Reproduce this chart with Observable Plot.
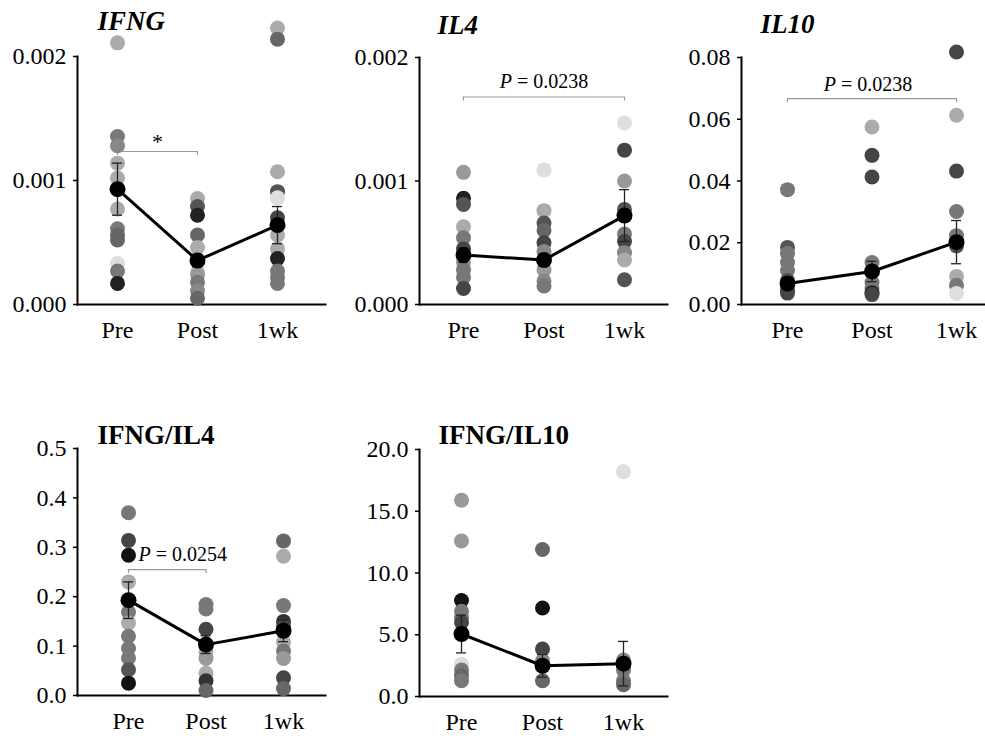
<!DOCTYPE html>
<html><head><meta charset="utf-8">
<script src="https://cdn.jsdelivr.net/npm/d3@7"></script>
<script src="https://cdn.jsdelivr.net/npm/@observablehq/plot@0.6"></script>
<style>
body{margin:0;background:#fff;}
#chart{position:relative;width:985px;height:736px;background:#fff;font-family:"Liberation Serif","Times New Roman",serif;}
#chart svg{position:absolute;overflow:visible;}
#chart svg text{font-family:"Liberation Serif","Times New Roman",serif !important;}
#chart svg g[aria-label$="tick label"] text{font-size:24px !important;fill:#000;}
</style></head><body><div id="chart"></div>
<script>
const categories = ["Pre", "Post", "1wk"];

// [value, gray shade (0 = black, 1 = white)]
const ifngPre  = [[0.00211,0.67],[0.001355,0.47],[0.00128,0.53],[0.00114,0.67],[0.00102,0.67],[0.00077,0.67],[0.00061,0.47],[0.00056,0.4],[0.00052,0.4],[0.00033,0.87],[0.00027,0.47],[0.00017,0.13]];
const ifngPost = [[0.000855,0.67],[0.00079,0.33],[0.00072,0.13],[0.00056,0.4],[0.00046,0.67],[0.00026,0.73],[0.00024,0.6],[0.00018,0.47],[0.00011,0.53],[0.00005,0.4]];
const ifng1wk  = [[0.00223,0.67],[0.00214,0.4],[0.00107,0.67],[0.00091,0.33],[0.00086,0.87],[0.0007,0.27],[0.00056,0.67],[0.00045,0.67],[0.00037,0.13],[0.00027,0.47],[0.00022,0.47],[0.00017,0.47]];
const ifngMean = [0.00093, 0.000355, 0.00064];
const ifngSem  = [0.00021, 0.00005, 0.00015];

const il4Pre  = [[0.00107,0.6],[0.00086,0.13],[0.00081,0.33],[0.00063,0.67],[0.00054,0.47],[0.00045,0.27],[0.00034,0.6],[0.00028,0.47],[0.00022,0.47],[0.00013,0.27]];
const il4Post = [[0.00109,0.87],[0.00076,0.67],[0.00066,0.33],[0.0006,0.4],[0.0005,0.27],[0.00043,0.53],[0.00028,0.6],[0.00019,0.53],[0.00015,0.47]];
const il41wk  = [[0.00147,0.87],[0.00125,0.27],[0.001,0.6],[0.00077,0.33],[0.00057,0.47],[0.00051,0.27],[0.00042,0.53],[0.00036,0.67],[0.0002,0.33]];
const il4Mean = [0.0004, 0.00036, 0.00072];
const il4Sem  = [0.00006, 0.00005, 0.00021];

const il10Pre  = [[0.0372,0.47],[0.0185,0.33],[0.0165,0.47],[0.0136,0.47],[0.011,0.47],[0.0078,0.33],[0.0045,0.27],[0.0037,0.27]];
const il10Post = [[0.0575,0.67],[0.0483,0.27],[0.0413,0.27],[0.0136,0.47],[0.0071,0.47],[0.0052,0.47],[0.0038,0.13],[0.0032,0.27]];
const il101wk  = [[0.0818,0.27],[0.0613,0.67],[0.0432,0.27],[0.0301,0.47],[0.0223,0.47],[0.019,0.33],[0.0091,0.67],[0.0062,0.47],[0.0036,0.87]];
const il10Mean = [0.0068, 0.0107, 0.0202];
const il10Sem  = [0.0015, 0.0033, 0.007];

const r4Pre  = [[0.37,0.47],[0.314,0.27],[0.284,0.07],[0.23,0.67],[0.169,0.47],[0.147,0.67],[0.12,0.47],[0.095,0.47],[0.076,0.47],[0.052,0.33],[0.025,0.07]];
const r4Post = [[0.184,0.47],[0.175,0.47],[0.134,0.27],[0.088,0.67],[0.075,0.6],[0.045,0.67],[0.03,0.2],[0.01,0.4]];
const r41wk  = [[0.313,0.4],[0.282,0.67],[0.182,0.47],[0.15,0.2],[0.14,0.27],[0.108,0.67],[0.09,0.47],[0.075,0.6],[0.036,0.27],[0.014,0.4]];
const r4Mean = [0.193, 0.103, 0.131];
const r4Sem  = [0.037, 0.018, 0.022];

const r10Pre  = [[15.9,0.6],[12.6,0.6],[7.77,0.07],[6.9,0.47],[6.4,0.47],[6.0,0.27],[2.62,0.87],[2.14,0.47],[1.68,0.4],[1.27,0.47]];
const r10Post = [[11.9,0.4],[7.17,0.07],[3.84,0.27],[2.9,0.53],[1.27,0.4]];
const r101wk  = [[18.2,0.87],[2.95,0.53],[2.4,0.47],[2.14,0.47],[1.27,0.47],[0.95,0.4]];
const r10Mean = [5.06, 2.49, 2.66];
const r10Sem  = [1.53, 0.92, 1.8];

const ifngTicks = [0, 0.001, 0.002];
const il4Ticks = [0, 0.001, 0.002];
const il10Ticks = [0, 0.02, 0.04, 0.06, 0.08];
const r4Ticks = [0, 0.1, 0.2, 0.3, 0.4, 0.5];
const r10Ticks = [0, 5, 10, 15, 20];

const FONT = '"Liberation Serif","Times New Roman",serif';
const chart = document.getElementById("chart");

function panel(o) {
  const rows = o.groups.flatMap((g, i) => g.map(([v, s]) => ({i, v, s})));
  const stats = o.means.map((m, i) => ({i, m, lo: m - o.sems[i], hi: m + o.sems[i]}));
  const ymax = o.ticks[o.ticks.length - 1];
  const plotH = o.height - o.mT - o.mB;
  const capDx = 5 / ((o.xr[1] - o.xr[0]) / 2);
  const tickDy = 4 / plotH * ymax;
  const marks = [
    Plot.frame({anchor: "left", stroke: "#000", strokeWidth: 2}),
    Plot.frame({anchor: "bottom", stroke: "#000", strokeWidth: 2}),
    Plot.axisY({ticks: o.ticks, tickFormat: d3.format(o.fmt), tickSize: 4, tickPadding: 7, fontSize: 24, fontFamily: FONT, stroke: "#000", strokeWidth: 1.5, label: null}),
    Plot.axisX({ticks: [0, 1, 2], tickFormat: i => categories[i], tickSize: 0, tickPadding: 16, fontSize: 24, fontFamily: FONT, label: null})
  ];
  if (o.bracket) {
    const b = o.bracket;
    marks.push(
      Plot.ruleY([b], {x1: "from", x2: "to", y: "level", stroke: "#999", strokeWidth: 1.2}),
      Plot.ruleX([b.from, b.to], {x: d => d, y1: () => b.level, y2: () => b.level - tickDy, stroke: "#999", strokeWidth: 1.2})
    );
  }
  marks.push(
    Plot.dot(rows, {x: "i", y: "v", fill: "s", r: 7.5}),
    Plot.ruleX(stats, {x: "i", y1: "lo", y2: "hi", stroke: "#222", strokeWidth: 1.3}),
    Plot.ruleY(stats, {y: "lo", x1: d => d.i - capDx, x2: d => d.i + capDx, stroke: "#222", strokeWidth: 1.3}),
    Plot.ruleY(stats, {y: "hi", x1: d => d.i - capDx, x2: d => d.i + capDx, stroke: "#222", strokeWidth: 1.3}),
    Plot.line(stats, {x: "i", y: "m", stroke: "#000", strokeWidth: 3}),
    Plot.dot(stats, {x: "i", y: "m", fill: "#000", r: 8}),
    Plot.text([o.title], {frameAnchor: "top-left", dx: o.tdx, dy: o.tdy, textAnchor: "start", lineAnchor: "bottom",
      fontSize: 27, fontWeight: "bold", fontStyle: o.italic ? "italic" : "normal", fontFamily: FONT, fill: "#000"})
  );
  if (o.bracket) {
    const b = o.bracket;
    marks.push(Plot.text([b], {x: "at", y: "level", text: "label", dx: b.dx || 0, dy: b.dy, textAnchor: b.anchor,
      lineAnchor: "bottom", fontSize: b.size, fontFamily: FONT, fill: "#000"}));
  }
  const svg = Plot.plot({
    width: o.width, height: o.height,
    marginLeft: o.mL, marginTop: o.mT, marginRight: o.mR, marginBottom: o.mB,
    x: {type: "linear", domain: [0, 2], range: o.xr, label: null},
    y: {domain: [0, ymax], label: null},
    color: {type: "linear", domain: [0, 1], range: ["#000", "#fff"]},
    style: {background: "transparent", fontFamily: FONT, color: "#000", overflow: "visible"},
    marks
  });
  svg.style.left = o.left + "px";
  svg.style.top = o.top + "px";
  svg.querySelectorAll("text").forEach(t => {
    if (t.textContent.startsWith("P = ")) {
      const rest = t.textContent.slice(1);
      t.textContent = "";
      const p = document.createElementNS("http://www.w3.org/2000/svg", "tspan");
      p.setAttribute("font-style", "italic");
      p.textContent = "P";
      t.append(p, rest);
    }
  });
  chart.appendChild(svg);
}

panel({title: "IFNG", italic: true, groups: [ifngPre, ifngPost, ifng1wk], means: ifngMean, sems: ifngSem,
  ticks: ifngTicks, fmt: ".3f", left: 0, top: 0, width: 330, height: 350, mL: 77, mT: 56, mR: 5, mB: 46,
  xr: [117, 277], tdx: 20, tdy: -27,
  bracket: {from: 0, to: 1, level: 0.001234, at: 0.5, label: "*", anchor: "middle", dy: -2, size: 22}});

panel({title: "IL4", italic: true, groups: [il4Pre, il4Post, il41wk], means: il4Mean, sems: il4Sem,
  ticks: il4Ticks, fmt: ".3f", left: 330, top: 0, width: 340, height: 350, mL: 89, mT: 57, mR: 3, mB: 46,
  xr: [133, 294], tdx: 18, tdy: -24,
  bracket: {from: 0, to: 2, level: 0.00168, at: 1, label: "P = 0.0238", anchor: "middle", dy: -9, size: 20}});

panel({title: "IL10", italic: true, groups: [il10Pre, il10Post, il101wk], means: il10Mean, sems: il10Sem,
  ticks: il10Ticks, fmt: ".2f", left: 670, top: 0, width: 315, height: 350, mL: 71, mT: 57, mR: 0, mB: 46,
  xr: [117, 286], tdx: 19, tdy: -25,
  bracket: {from: 0, to: 2, level: 0.0667, at: 1, label: "P = 0.0238", anchor: "middle", dx: -4, dy: -8, size: 20}});

panel({title: "IFNG/IL4", italic: false, groups: [r4Pre, r4Post, r41wk], means: r4Mean, sems: r4Sem,
  ticks: r4Ticks, fmt: ".1f", left: 0, top: 390, width: 330, height: 346, mL: 77, mT: 58, mR: 5, mB: 41,
  xr: [128, 283], tdx: 20, tdy: -5,
  bracket: {from: 0, to: 1, level: 0.255, at: 0, label: "P = 0.0254", anchor: "start", dx: 10, dy: -9, size: 20}});

panel({title: "IFNG/IL10", italic: false, groups: [r10Pre, r10Post, r101wk], means: r10Mean, sems: r10Sem,
  ticks: r10Ticks, fmt: ".1f", left: 330, top: 390, width: 340, height: 346, mL: 89, mT: 59, mR: 3, mB: 40,
  xr: [131, 293], tdx: 19, tdy: -6});
</script></body></html>
